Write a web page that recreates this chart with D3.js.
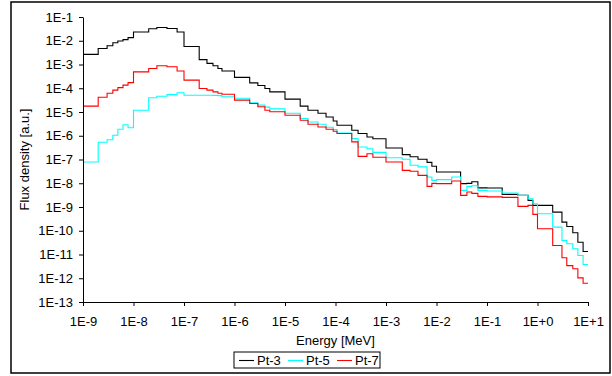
<!DOCTYPE html>
<html>
<head>
<meta charset="utf-8">
<script src="https://cdn.jsdelivr.net/npm/d3@7"></script>
<style>
  body { margin: 0; background: #fff; }
  svg { display: block; font-family: Arial, 'Liberation Sans', sans-serif; }
</style>
</head>
<body>
<svg id="chart"></svg>
<script>
// energy group boundaries [MeV]
const groupEdges = [
  1e-9, 2e-9, 3e-9, 3.9e-9, 4.9e-9, 6.2e-9, 7.8e-9, 1e-8, 2e-8, 2.9e-8,
  4.6e-8, 7.3e-8, 1e-7, 2e-7, 2.85e-7, 3.75e-7, 4.7e-7, 5.65e-7, 1e-6, 2e-6,
  2.9e-6, 4e-6, 5e-6, 1e-5, 2e-5, 2.85e-5, 4.5e-5, 6.5e-5, 9e-5, 1.07e-4,
  2.1e-4, 2.8e-4, 4.2e-4, 5.5e-4, 1e-3, 2.1e-3, 3e-3, 4.3e-3, 6.5e-3, 8.1e-3,
  1e-2, 2e-2, 3e-2, 4e-2, 5e-2, 6.6e-2, 0.1, 0.2, 0.41, 0.65,
  0.81, 1.0, 2.0, 3.05, 3.8, 5.0, 6.3, 8.0, 10
];

// flux per group [a.u.]
const pt3 = [
  2.67e-3, 4.7e-3, 6.15e-3, 8.2e-3, 9.7e-3, 1.12e-2, 1.36e-2, 2.33e-2, 3.2e-2, 3.6e-2,
  3.27e-2, 2.33e-2, 5.7e-3, 1.61e-3, 1.11e-3, 8.8e-4, 6.8e-4, 5.3e-4, 2.86e-4, 1.69e-4,
  1.31e-4, 9.8e-5, 7.05e-5, 3.47e-5, 1.76e-5, 1.19e-5, 8.9e-6, 6.2e-6, 4.2e-6, 2.77e-6,
  1.71e-6, 1.24e-6, 8.9e-7, 7.5e-7, 3.05e-7, 1.61e-7, 1.3e-7, 1.02e-7, 7.6e-8, 5.2e-8,
  2.97e-8, 2.97e-8, 9.6e-9, 9.9e-9, 1.15e-8, 6.4e-9, 6.3e-9, 3.4e-9, 3.1e-9, 1.9e-9,
  1.17e-9, 1.17e-9, 6.1e-10, 2.3e-10, 1.52e-10, 8.2e-11, 3.3e-11, 1.34e-11
];
const pt5 = [
  7.85e-8, 5.3e-7, 6.8e-7, 1.05e-6, 1.88e-6, 2.9e-6, 2.18e-6, 1.19e-5, 4.0e-5, 4.6e-5,
  5.4e-5, 6.5e-5, 5.1e-5, 5.1e-5, 5.1e-5, 5.0e-5, 4.9e-5, 4.4e-5, 3.8e-5, 2.42e-5,
  1.94e-5, 1.6e-5, 1.35e-5, 8.9e-6, 5.3e-6, 3.8e-6, 3.05e-6, 2.29e-6, 1.83e-6, 1.31e-6,
  7.6e-7, 3.37e-7, 2.83e-7, 2.0e-7, 1.18e-7, 1.02e-7, 5.7e-8, 4.9e-8, 1.83e-8, 1.32e-8,
  1.42e-8, 1.83e-8, 5.0e-9, 7.4e-9, 7.9e-9, 5.0e-9, 4.7e-9, 3.86e-9, 3.1e-9, 2.24e-9,
  1.38e-9, 5.2e-10, 1.42e-10, 3.9e-11, 2.83e-11, 1.74e-11, 9.1e-12, 3.8e-12
];
const pt7 = [
  1.76e-5, 4.2e-5, 6.2e-5, 8.3e-5, 1.06e-4, 1.35e-4, 1.72e-4, 4.9e-4, 6.8e-4, 8.8e-4,
  8.0e-4, 5.3e-4, 2.2e-4, 9.8e-5, 8.3e-5, 7.05e-5, 6.2e-5, 5.6e-5, 3.15e-5, 2.28e-5,
  1.67e-5, 1.19e-5, 1.03e-5, 7.3e-6, 4.5e-6, 3.05e-6, 2.35e-6, 1.88e-6, 1.55e-6, 1.24e-6,
  5.5e-7, 1.36e-7, 1.74e-7, 1.24e-7, 7.85e-8, 3.5e-8, 3.2e-8, 2.15e-8, 7.4e-9, 9.9e-9,
  9.6e-9, 1.24e-8, 3.1e-9, 4.3e-9, 3.75e-9, 2.8e-9, 2.67e-9, 2.55e-9, 1.06e-9, 1.17e-9,
  4.9e-10, 1.21e-10, 2.4e-11, 7.3e-12, 3.4e-12, 2.5e-12, 1.04e-12, 6.2e-13
];

const seriesNames = ['Pt-3', 'Pt-5', 'Pt-7'];

const energyTicks = [1e-9, 1e-8, 1e-7, 1e-6, 1e-5, 1e-4, 1e-3, 1e-2, 1e-1, 1, 10];
const energyLabels = ['1E-9', '1E-8', '1E-7', '1E-6', '1E-5', '1E-4', '1E-3', '1E-2', '1E-1', '1E+0', '1E+1'];
const fluxTicks = [1e-13, 1e-12, 1e-11, 1e-10, 1e-9, 1e-8, 1e-7, 1e-6, 1e-5, 1e-4, 1e-3, 1e-2, 1e-1];
const fluxLabels = ['1E-13', '1E-12', '1E-11', '1E-10', '1E-9', '1E-8', '1E-7', '1E-6', '1E-5', '1E-4', '1E-3', '1E-2', '1E-1'];

const width = 612;
const height = 376;
const plot = { left: 83, right: 588, top: 17, bottom: 302 };
const colors = ['#000000', '#00FFFF', '#FF0000'];
const fontSize = 13;

const svg = d3.select('#chart').attr('width', width).attr('height', height);

// outer frame
svg.append('rect')
  .attr('x', 11).attr('y', 2)
  .attr('width', 599).attr('height', 371)
  .attr('fill', '#fff').attr('stroke', '#000').attr('stroke-width', 1.5);

// scales
const x = d3.scaleLog().domain([1e-9, 10]).range([plot.left, plot.right]);
const y = d3.scaleLog().domain([1e-13, 1e-1]).range([plot.bottom, plot.top]);

// series as step lines
const line = d3.line()
  .x((d) => x(d[0]))
  .y((d) => y(d[1]))
  .curve(d3.curveStepAfter);

const allSeries = [pt3, pt5, pt7];
allSeries.forEach((vals, k) => {
  const pts = groupEdges.map((e, i) => [e, vals[Math.min(i, vals.length - 1)]]);
  svg.append('path')
    .datum(pts)
    .attr('d', line)
    .attr('fill', 'none')
    .attr('stroke', colors[k])
    .attr('stroke-width', 1.1);
});

// Y axis
const yAxis = svg.append('g')
  .attr('transform', `translate(${plot.left},0)`)
  .call(d3.axisLeft(y).tickValues(fluxTicks).tickFormat((d, i) => fluxLabels[i])
    .tickSizeInner(4).tickSizeOuter(0).tickPadding(6));

// X axis
const xAxis = svg.append('g')
  .attr('transform', `translate(0,${plot.bottom})`)
  .call(d3.axisBottom(x).tickValues(energyTicks).tickFormat((d, i) => energyLabels[i])
    .tickSizeInner(4).tickSizeOuter(0).tickPadding(11));

[xAxis, yAxis].forEach((ax) => {
  ax.selectAll('.domain').attr('stroke', '#000');
  ax.selectAll('.tick line').attr('stroke', '#000');
  ax.selectAll('text').attr('font-size', fontSize).attr('font-family', 'Arial, Liberation Sans, sans-serif').attr('fill', '#000');
});

// axis titles
svg.append('text')
  .attr('x', (plot.left + plot.right) / 2).attr('y', 345)
  .attr('text-anchor', 'middle').attr('font-size', fontSize)
  .text('Energy [MeV]');

svg.append('text')
  .attr('transform', `translate(29,${(plot.top + plot.bottom) / 2}) rotate(-90)`)
  .attr('text-anchor', 'middle').attr('font-size', fontSize)
  .text('Flux density [a.u.]');

// legend
const legend = svg.append('g');
legend.append('rect')
  .attr('x', 234).attr('y', 352)
  .attr('width', 146).attr('height', 16)
  .attr('fill', '#fff').attr('stroke', '#000').attr('stroke-width', 1);

seriesNames.forEach((name, i) => {
  const lx = 239 + i * 49;
  legend.append('line')
    .attr('x1', lx).attr('x2', lx + 15)
    .attr('y1', 360.5).attr('y2', 360.5)
    .attr('stroke', colors[i]).attr('stroke-width', 1.1);
  legend.append('text')
    .attr('x', lx + 18).attr('y', 365)
    .attr('font-size', fontSize)
    .text(name);
});
</script>
</body>
</html>
